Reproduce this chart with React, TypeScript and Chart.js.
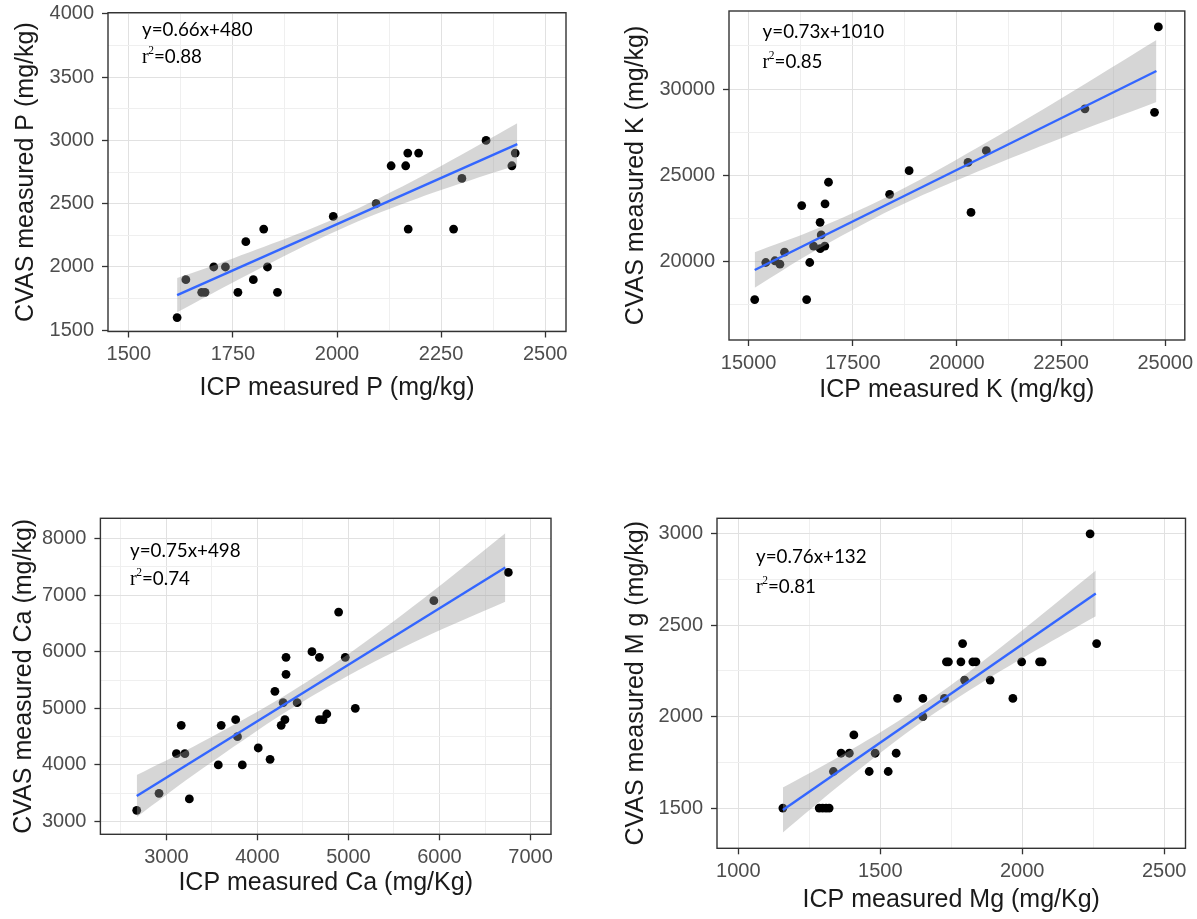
import React, { useEffect, useRef } from 'react';
import { Chart, registerables } from 'chart.js';
Chart.register(...registerables);

// ---------- Panel P ----------
const pPointsX = [1616, 1637, 1675, 1683, 1704, 1732, 1762, 1781, 1799, 1824, 1833, 1857, 1991, 2094, 2130, 2165, 2170, 2196, 2171, 2280, 2300, 2358, 2420, 2428];
const pPointsY = [1600, 1900, 1800, 1800, 2000, 2000, 1800, 2200, 1900, 2300, 2000, 1800, 2400, 2500, 2800, 2800, 2900, 2900, 2300, 2300, 2700, 3000, 2800, 2900];
const pFitX = [1616, 2433];
const pFitY = [1777, 2971];
const pBandX = [1616, 1750, 1900, 2000, 2100, 2250, 2433];
const pBandUpper = [1912, 2068, 2254, 2390, 2542, 2798, 3136];
const pBandLower = [1642, 1878, 2130, 2286, 2426, 2608, 2806];
const pXMajor = [1500, 1750, 2000, 2250, 2500];
const pXMinor = [1625, 1875, 2125, 2375];
const pYMajor = [1500, 2000, 2500, 3000, 3500, 4000];
const pYMinor = [1750, 2250, 2750, 3250, 3750];

// ---------- Panel K ----------
const kPointsX = [15147, 15413, 15633, 15752, 15862, 16275, 16394, 16468, 16560, 16716, 16743, 16720, 16835, 16830, 16918, 18385, 18853, 20266, 20339, 20706, 23073, 24743, 24835];
const kPointsY = [17800, 19950, 20050, 19850, 20550, 23250, 17800, 19950, 20900, 22280, 21550, 20750, 23350, 20900, 24600, 23900, 25270, 25750, 22850, 26430, 28850, 28650, 33600];
const kFitX = [15147, 24789];
const kFitY = [19517, 31042];
const kBandX = [15147, 16500, 18000, 19000, 20500, 22500, 24789];
const kBandUpper = [20547, 21774, 23372, 24592, 26615, 29455, 32842];
const kBandLower = [18487, 20494, 22482, 23652, 25215, 27155, 29242];
const kXMajor = [15000, 17500, 20000, 22500, 25000];
const kXMinor = [16250, 18750, 21250, 23750];
const kYMajor = [20000, 25000, 30000];
const kYMinor = [17500, 22500, 27500, 32500];

// ---------- Panel Ca ----------
const caPointsX = [2674, 2919, 3110, 3163, 3203, 3252, 3570, 3602, 3761, 3781, 3834, 4009, 4139, 4192, 4261, 4282, 4302, 4314, 4314, 4436, 4599, 4681, 4681, 4721, 4762, 4892, 4965, 5075, 5938, 6756];
const caPointsY = [3200, 3500, 4200, 4700, 4200, 3400, 4000, 4700, 4800, 4500, 4000, 4300, 4100, 5300, 4700, 5100, 4800, 5600, 5900, 5100, 6000, 5900, 4800, 4800, 4900, 6700, 5900, 5000, 6900, 7400];
const caFitX = [2674, 6723];
const caFitY = [3453, 7488];
const caBandX = [2674, 3300, 4000, 4400, 5000, 5800, 6723];
const caBandUpper = [3823, 4327, 4940, 5323, 5961, 6909, 8093];
const caBandLower = [3083, 3827, 4610, 5023, 5581, 6229, 6883];
const caXMajor = [3000, 4000, 5000, 6000, 7000];
const caXMinor = [2500, 3500, 4500, 5500, 6500];
const caYMajor = [3000, 4000, 5000, 6000, 7000, 8000];
const caYMinor = [3500, 4500, 5500, 6500, 7500];

// ---------- Panel Mg ----------
const mgPointsX = [1157, 1285, 1297, 1309, 1320, 1335, 1362, 1391, 1407, 1461, 1482, 1528, 1556, 1561, 1650, 1650, 1726, 1733, 1740, 1784, 1790, 1797, 1826, 1837, 1887, 1967, 1998, 2061, 2070, 2239, 2262];
const mgPointsY = [1500, 1500, 1500, 1500, 1500, 1700, 1800, 1800, 1900, 1700, 1800, 1700, 1800, 2100, 2100, 2000, 2100, 2300, 2300, 2300, 2400, 2200, 2300, 2300, 2200, 2100, 2300, 2300, 2300, 3000, 2400];
const mgFitX = [1157, 2259];
const mgFitY = [1489, 2674];
const mgBandX = [1157, 1350, 1550, 1700, 1850, 2050, 2259];
const mgBandUpper = [1612, 1776, 1962, 2118, 2289, 2534, 2799];
const mgBandLower = [1366, 1616, 1862, 2028, 2179, 2364, 2549];
const mgXMajor = [1000, 1500, 2000, 2500];
const mgXMinor = [1250, 1750, 2250];
const mgYMajor = [1500, 2000, 2500, 3000];
const mgYMinor = [1750, 2250, 2750];

type Layout = {
  cx: number; cy: number; cw: number; ch: number;
  L: number; T: number; R: number; B: number;
  yTitleX: number; xTitleY: number; eqX: number; eqY: number; r2Y: number;
};

type Panel = {
  key: string;
  px: number[]; py: number[]; fx: number[]; fy: number[];
  bx: number[]; bu: number[]; bl: number[];
  xMajor: number[]; xMinor: number[]; yMajor: number[]; yMinor: number[];
  xMin: number; xMax: number; yMin: number; yMax: number;
  xTitle: string; yTitle: string; eq: string; r2: string;
  layout: Layout;
};

const panels: Panel[] = [
  {
    key: 'P', px: pPointsX, py: pPointsY, fx: pFitX, fy: pFitY, bx: pBandX, bu: pBandUpper, bl: pBandLower,
    xMajor: pXMajor, xMinor: pXMinor, yMajor: pYMajor, yMinor: pYMinor,
    xMin: 1450, xMax: 2550, yMin: 1490, yMax: 4010,
    xTitle: 'ICP measured P (mg/kg)', yTitle: 'CVAS measured P (mg/kg)', eq: 'y=0.66x+480', r2: '=0.88',
    layout: { cx: 0, cy: 0, cw: 598, ch: 459, L: 108, T: 12.7, R: 566, B: 331.5, yTitleX: 26, xTitleY: 388, eqX: 142, eqY: 30, r2Y: 57 },
  },
  {
    key: 'K', px: kPointsX, py: kPointsY, fx: kFitX, fy: kFitY, bx: kBandX, bu: kBandUpper, bl: kBandLower,
    xMajor: kXMajor, xMinor: kXMinor, yMajor: kYMajor, yMinor: kYMinor,
    xMin: 14530, xMax: 25470, yMin: 15460, yMax: 34520,
    xTitle: 'ICP measured K (mg/kg)', yTitle: 'CVAS measured K (mg/kg)', eq: 'y=0.73x+1010', r2: '=0.85',
    layout: { cx: 598, cy: 0, cw: 599, ch: 459, L: 729, T: 11, R: 1184.8, B: 340, yTitleX: 636.4, xTitleY: 390, eqX: 762.6, eqY: 31.7, r2Y: 61.7 },
  },
  {
    key: 'Ca', px: caPointsX, py: caPointsY, fx: caFitX, fy: caFitY, bx: caBandX, bu: caBandUpper, bl: caBandLower,
    xMajor: caXMajor, xMinor: caXMinor, yMajor: caYMajor, yMinor: caYMinor,
    xMin: 2275, xMax: 7225, yMin: 2776, yMax: 8355,
    xTitle: 'ICP measured Ca (mg/Kg)', yTitle: 'CVAS measured Ca (mg/kg)', eq: 'y=0.75x+498', r2: '=0.74',
    layout: { cx: 0, cy: 459, cw: 598, ch: 460, L: 100.4, T: 518.3, R: 551, B: 834.3, yTitleX: 24.2, xTitleY: 883, eqX: 130, eqY: 550.7, r2Y: 579 },
  },
  {
    key: 'Mg', px: mgPointsX, py: mgPointsY, fx: mgFitX, fy: mgFitY, bx: mgBandX, bu: mgBandUpper, bl: mgBandLower,
    xMajor: mgXMajor, xMinor: mgXMinor, yMajor: mgYMajor, yMinor: mgYMinor,
    xMin: 925, xMax: 2575, yMin: 1280, yMax: 3085,
    xTitle: 'ICP measured Mg (mg/Kg)', yTitle: 'CVAS measured M g (mg/kg)', eq: 'y=0.76x+132', r2: '=0.81',
    layout: { cx: 598, cy: 459, cw: 599, ch: 460, L: 717, T: 518.3, R: 1185.5, B: 848.3, yTitleX: 636.4, xTitleY: 900, eqX: 756, eqY: 557, r2Y: 586.7 },
  },
];

const TITLE_SIZE = 25;
const TICK_SIZE = 20;
const FONT = "'Liberation Sans', Arial, sans-serif";
const EQ_FONT = "18.8px Lato, 'Open Sans', sans-serif";

function zip(xs: number[], ys: number[]) {
  return xs.map((x, i) => ({ x, y: ys[i] }));
}

function buildConfig(p: Panel): any {
  const lay = p.layout;
  const areaL = lay.L - lay.cx;
  const areaR = lay.R - lay.cx;
  const areaT = lay.T - lay.cy;
  const areaB = lay.B - lay.cy;
  const titleLH = TITLE_SIZE * 1.2;
  const xTitlePad = lay.ch - (lay.xTitleY - lay.cy) - titleLH / 2;
  const yTitlePad = (lay.yTitleX - lay.cx) - titleLH / 2;
  const xTicks = [...p.xMajor, ...p.xMinor].sort((a, b) => a - b);
  const yTicks = [...p.yMajor, ...p.yMinor].sort((a, b) => a - b);

  const gridColor = (majors: number[]) => (c: any) =>
    c.tick && majors.includes(c.tick.value) ? '#e1e1e1' : '#efefef';
  const tickColor = (majors: number[]) => (c: any) =>
    c.tick && majors.includes(c.tick.value) ? '#333333' : 'rgba(0,0,0,0)';

  const framePlugin = {
    id: 'frame' + p.key,
    afterDatasetsDraw(chart: any) {
      const { ctx, chartArea: a } = chart;
      ctx.save();
      ctx.strokeStyle = '#333333';
      ctx.lineWidth = 1.4;
      ctx.strokeRect(a.left, a.top, a.right - a.left, a.bottom - a.top);
      ctx.restore();
    },
  };

  const eqPlugin = {
    id: 'eq' + p.key,
    afterDraw(chart: any) {
      const ctx = chart.ctx;
      const x = lay.eqX - lay.cx;
      const y1 = lay.eqY - lay.cy;
      const y2 = lay.r2Y - lay.cy;
      ctx.save();
      ctx.fillStyle = '#000000';
      ctx.textBaseline = 'middle';
      ctx.textAlign = 'left';
      ctx.font = EQ_FONT;
      ctx.fillText(p.eq, x, y1);
      ctx.font = "20px 'Liberation Serif', serif";
      ctx.fillText('r', x, y2 + 1);
      const rw = ctx.measureText('r').width;
      ctx.font = "11.5px 'Liberation Serif', serif";
      ctx.fillText('2', x + rw - 0.5, y2 - 6);
      const sw = ctx.measureText('2').width;
      ctx.font = EQ_FONT;
      ctx.fillText(p.r2, x + rw + sw - 0.5, y2);
      ctx.restore();
    },
  };

  return {
    type: 'scatter',
    data: {
      datasets: [
        {
          type: 'line', label: 'fit', data: zip(p.fx, p.fy),
          borderColor: '#3366FF', borderWidth: 2.4, pointRadius: 0, fill: false, order: 1,
        },
        {
          type: 'line', label: 'upper', data: zip(p.bx, p.bu),
          borderColor: 'rgba(0,0,0,0)', borderWidth: 0, pointRadius: 0, tension: 0.35,
          fill: '+1', backgroundColor: 'rgba(153,153,153,0.4)', order: 2,
        },
        {
          type: 'line', label: 'lower', data: zip(p.bx, p.bl),
          borderColor: 'rgba(0,0,0,0)', borderWidth: 0, pointRadius: 0, tension: 0.35,
          fill: false, order: 2,
        },
        {
          type: 'scatter', label: 'points', data: zip(p.px, p.py),
          pointBackgroundColor: '#000000', pointBorderWidth: 0, pointBorderColor: 'rgba(0,0,0,0)',
          pointRadius: 4.4, order: 3,
        },
      ],
    },
    options: {
      responsive: false,
      animation: false,
      events: [],
      layout: { padding: { left: 0, top: areaT, right: lay.cw - areaR, bottom: 0 } },
      plugins: { legend: { display: false }, tooltip: { enabled: false } },
      scales: {
        x: {
          type: 'linear', position: 'bottom', min: p.xMin, max: p.xMax,
          afterBuildTicks: (s: any) => { s.ticks = xTicks.map((v) => ({ value: v })); },
          afterFit: (s: any) => { s.height = lay.ch - areaB; s.paddingLeft = 0; s.paddingRight = 0; },
          border: { display: false },
          grid: {
            color: gridColor(p.xMajor), lineWidth: 1, drawTicks: true, tickLength: 6,
            tickColor: tickColor(p.xMajor), tickWidth: 1.3,
          },
          ticks: {
            autoSkip: false, maxRotation: 0, minRotation: 0, padding: 5, color: '#4d4d4d',
            font: { family: FONT, size: TICK_SIZE, lineHeight: 1.2 },
            callback: (v: number) => (p.xMajor.includes(v) ? String(v) : ''),
          },
          title: {
            display: true, text: p.xTitle, color: '#1a1a1a',
            font: { family: FONT, size: TITLE_SIZE, lineHeight: 1.2 },
            padding: { top: 0, bottom: xTitlePad },
          },
        },
        y: {
          type: 'linear', position: 'left', min: p.yMin, max: p.yMax,
          afterBuildTicks: (s: any) => { s.ticks = yTicks.map((v) => ({ value: v })); },
          afterFit: (s: any) => { s.width = areaL; s.paddingTop = 0; s.paddingBottom = 0; },
          border: { display: false },
          grid: {
            color: gridColor(p.yMajor), lineWidth: 1, drawTicks: true, tickLength: 6,
            tickColor: tickColor(p.yMajor), tickWidth: 1.3,
          },
          ticks: {
            autoSkip: false, padding: 8, color: '#4d4d4d',
            font: { family: FONT, size: TICK_SIZE, lineHeight: 1.2 },
            callback: (v: number) => (p.yMajor.includes(v) ? String(v) : ''),
          },
          title: {
            display: true, text: p.yTitle, color: '#1a1a1a',
            font: { family: FONT, size: TITLE_SIZE, lineHeight: 1.2 },
            padding: { top: yTitlePad, bottom: 0 },
          },
        },
      },
    },
    plugins: [framePlugin, eqPlugin],
  };
}

function PanelChart({ panel }: { panel: Panel }) {
  const ref = useRef<HTMLCanvasElement | null>(null);
  useEffect(() => {
    if (!ref.current) return;
    const chart = new Chart(ref.current, buildConfig(panel));
    return () => chart.destroy();
  }, [panel]);
  const l = panel.layout;
  return (
    <canvas
      ref={ref}
      width={l.cw}
      height={l.ch}
      style={{ position: 'absolute', left: l.cx, top: l.cy, width: l.cw, height: l.ch }}
    />
  );
}

export default function App() {
  return (
    <div style={{ position: 'absolute', left: 0, top: 0, width: 1197, height: 919, background: '#ffffff', overflow: 'hidden' }}>
      {panels.map((p) => (
        <PanelChart key={p.key} panel={p} />
      ))}
    </div>
  );
}
